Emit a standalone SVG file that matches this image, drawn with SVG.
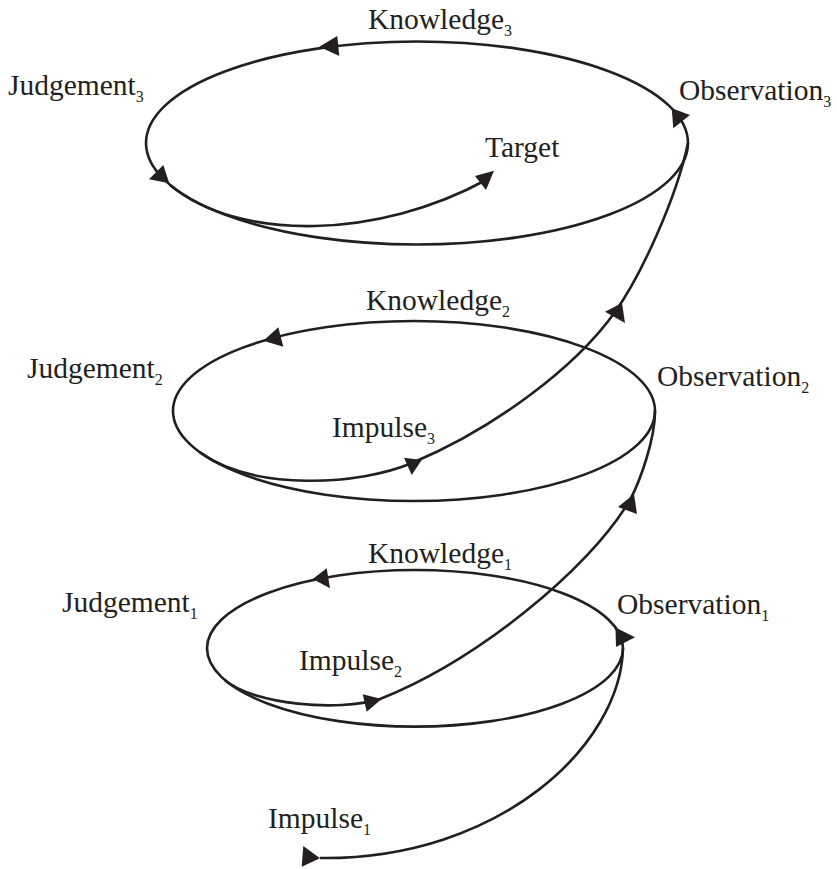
<svg xmlns="http://www.w3.org/2000/svg" width="837" height="869" viewBox="0 0 837 869">
<style>
.ln{fill:none;stroke:#231f20;stroke-width:2.6}
.ah{fill:#231f20;stroke:none}
.lb{font-family:"Liberation Serif","Times New Roman",serif;font-size:29.5px;fill:#231f20}
.sb{font-size:16px}
</style>
<rect width="837" height="869" fill="#ffffff"/>
<g id="connectors">
<ellipse class="ln" cx="417" cy="143" rx="271" ry="101.5"/>
<ellipse class="ln" cx="414" cy="411" rx="241" ry="90"/>
<ellipse class="ln" cx="415" cy="648.3" rx="208" ry="78.3"/>
<path class="ln" d="M623,648 C621,745 500,860 320,858"/>
<path class="ln" d="M225,680.2 C254,704.7 338,712 380,699 C475.7,660.8 588,571 630,500 C640,481 655,440 655,411"/>
<path class="ln" d="M200,452.4 C255,492 360,485 412,463 C493.6,428.8 574.8,368.4 615,312 C640,277 676,200 688,143"/>
<path class="ln" d="M170,185 C240,243 380,238 486,180"/>
<polygon class="ah" points="319.3,46.7 337.3,36 339.3,56"/>
<polygon class="ah" points="149,179.3 163.3,165 169.3,183.3"/>
<polygon class="ah" points="475,176 494,170.7 486,190"/>
<polygon class="ah" points="671.7,108.3 690,115 673.3,128.3"/>
<polygon class="ah" points="605,311.7 622,303 625,323"/>
<polygon class="ah" points="263.3,340.7 278.3,327.3 283.3,346.7"/>
<polygon class="ah" points="404,457.7 421.7,460 411.7,475"/>
<polygon class="ah" points="618,507 634,494 637,514"/>
<polygon class="ah" points="312.7,579 326.7,568.3 330,588.3"/>
<polygon class="ah" points="362.7,694.3 381.7,699 366.7,711.7"/>
<polygon class="ah" points="615.5,627.5 635,637.3 616,647"/>
<polygon class="ah" points="303.3,846 320,858.3 301.7,866.7"/>
</g>
<g id="knowledge3"><text class="lb" x="368" y="29">Knowledge<tspan class="sb" dy="7">3</tspan></text></g>
<g id="judgement3"><text class="lb" x="8" y="95">Judgement<tspan class="sb" dy="7">3</tspan></text></g>
<g id="observation3"><text class="lb" x="679" y="100">Observation<tspan class="sb" dy="7">3</tspan></text></g>
<g id="target"><text class="lb" x="485" y="157">Target</text></g>
<g id="knowledge2"><text class="lb" x="366" y="310">Knowledge<tspan class="sb" dy="7">2</tspan></text></g>
<g id="judgement2"><text class="lb" x="27" y="378">Judgement<tspan class="sb" dy="7">2</tspan></text></g>
<g id="observation2"><text class="lb" x="657" y="386">Observation<tspan class="sb" dy="7">2</tspan></text></g>
<g id="impulse3"><text class="lb" x="332" y="437">Impulse<tspan class="sb" dy="7">3</tspan></text></g>
<g id="knowledge1"><text class="lb" x="368" y="563">Knowledge<tspan class="sb" dy="7">1</tspan></text></g>
<g id="judgement1"><text class="lb" x="62" y="612">Judgement<tspan class="sb" dy="7">1</tspan></text></g>
<g id="observation1"><text class="lb" x="617" y="614">Observation<tspan class="sb" dy="7">1</tspan></text></g>
<g id="impulse2"><text class="lb" x="299" y="670">Impulse<tspan class="sb" dy="7">2</tspan></text></g>
<g id="impulse1"><text class="lb" x="268" y="828">Impulse<tspan class="sb" dy="7">1</tspan></text></g>
</svg>
